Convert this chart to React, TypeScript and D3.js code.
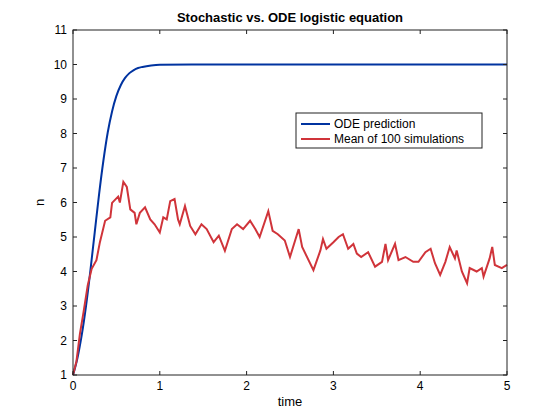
import React from "react";
import * as d3 from "d3";

const odeT = [0,0.05,0.1,0.15,0.2,0.25,0.3,0.35,0.4,0.45,0.5,0.55,0.6,0.65,0.7,0.75,0.8,0.9,1.0,1.5,2.0,2.5,3.0,3.5,4.0,4.5,5.0];
const odeN = [1,1.48,2.15,3.0,4.02,5.13,6.23,7.21,8.03,8.64,9.09,9.40,9.61,9.75,9.84,9.90,9.93,9.97,9.99,10.0,10.0,10.0,10.0,10.0,10.0,10.0,10.0];

const simT = [0,0.04,0.08,0.12,0.17,0.215,0.27,0.31,0.37,0.43,0.45,0.52,0.54,0.58,0.62,0.66,0.71,0.73,0.77,0.83,0.89,0.94,1.0,1.04,1.08,1.12,1.17,1.21,1.23,1.29,1.35,1.41,1.48,1.54,1.62,1.68,1.75,1.83,1.89,1.96,2.04,2.1,2.15,2.25,2.3,2.36,2.44,2.5,2.6,2.64,2.77,2.85,2.88,2.92,3.0,3.06,3.11,3.17,3.23,3.27,3.32,3.4,3.48,3.56,3.6,3.63,3.71,3.75,3.83,3.92,3.98,4.06,4.12,4.17,4.23,4.29,4.34,4.4,4.42,4.48,4.54,4.57,4.65,4.71,4.73,4.8,4.83,4.86,4.94,5.0];
const simN = [1,1.4,2.2,2.8,3.6,4.08,4.33,4.85,5.47,5.57,5.99,6.17,6.0,6.6,6.45,5.8,5.7,5.37,5.7,5.86,5.51,5.37,5.13,5.57,5.51,6.04,6.1,5.51,5.37,5.9,5.32,5.08,5.37,5.23,4.85,5.04,4.6,5.23,5.37,5.23,5.47,5.23,5.0,5.75,5.18,5.08,4.9,4.42,5.23,4.71,4.04,4.61,4.94,4.66,4.85,5.0,5.08,4.66,4.8,4.52,4.42,4.56,4.14,4.28,4.8,4.33,4.8,4.33,4.42,4.28,4.28,4.56,4.66,4.24,3.9,4.28,4.71,4.38,4.61,4.0,3.66,4.1,4.0,4.1,3.85,4.38,4.71,4.19,4.1,4.19];

const xTicks = [0,1,2,3,4,5];
const yTicks = [1,2,3,4,5,6,7,8,9,10,11];

export default function App() {
  const L = 73, R = 507, T = 30, B = 375;
  const x = d3.scaleLinear().domain([0,5]).range([L,R]);
  const y = d3.scaleLinear().domain([1,11]).range([B,T]);
  const line = d3.line<number>().x((_, i) => x(odeT[i])).y(d => y(d)).curve(d3.curveMonotoneX);
  const line2 = d3.line<number>().x((_, i) => x(simT[i])).y(d => y(d));
  const font = "Helvetica, Arial, 'Liberation Sans', sans-serif";
  return (
    <svg width={560} height={420} style={{position:"absolute",left:0,top:0,background:"#fff"}} fontFamily={font}>
      <rect x={0} y={0} width={560} height={420} fill="#fff"/>
      <path d={line(odeN)!} fill="none" stroke="#0033a0" strokeWidth={2}/>
      <path d={line2(simN)!} fill="none" stroke="#d0343a" strokeWidth={2}/>
      <rect x={L} y={T} width={R-L} height={B-T} fill="none" stroke="#222" strokeWidth={1}/>
      {xTicks.map(t => (
        <g key={t}>
          <line x1={x(t)} x2={x(t)} y1={B} y2={B-4} stroke="#222"/>
          <line x1={x(t)} x2={x(t)} y1={T} y2={T+4} stroke="#222"/>
          <text x={x(t)} y={B+15} fontSize={12} textAnchor="middle">{t}</text>
        </g>
      ))}
      {yTicks.map(t => (
        <g key={t}>
          <line x1={L} x2={L+4} y1={y(t)} y2={y(t)} stroke="#222"/>
          <line x1={R} x2={R-4} y1={y(t)} y2={y(t)} stroke="#222"/>
          <text x={L-6} y={y(t)+4} fontSize={12} textAnchor="end">{t}</text>
        </g>
      ))}
      <text x={(L+R)/2} y={406} fontSize={13} textAnchor="middle">time</text>
      <text transform={`translate(44,${(T+B)/2}) rotate(-90)`} fontSize={13} textAnchor="middle">n</text>
      <text x={(L+R)/2} y={22} fontSize={13} fontWeight="bold" textAnchor="middle">Stochastic vs. ODE logistic equation</text>
      <rect x={296} y={113} width={186} height={35} fill="#fff" stroke="#222"/>
      <line x1={301} x2={330} y1={124} y2={124} stroke="#0033a0" strokeWidth={2}/>
      <text x={334} y={128} fontSize={12}>ODE prediction</text>
      <line x1={301} x2={330} y1={139} y2={139} stroke="#d0343a" strokeWidth={2}/>
      <text x={334} y={143} fontSize={12}>Mean of 100 simulations</text>
    </svg>
  );
}
